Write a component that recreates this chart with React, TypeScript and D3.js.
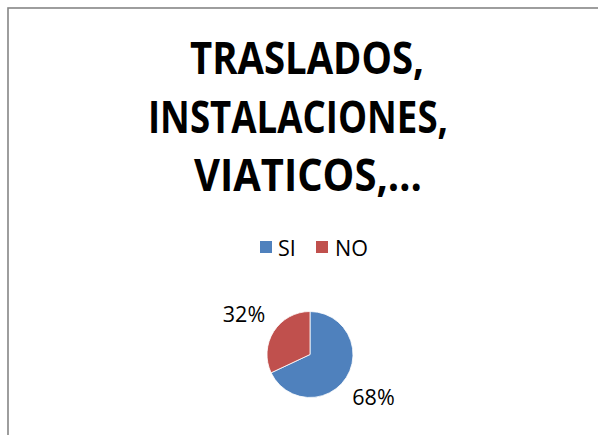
import React from "react";
import * as d3 from "d3";

const categories = ["SI", "NO"];
const values = [68, 32];
const colors = ["#4F81BD", "#C0504D"];
const titleLines = ["TRASLADOS,", "INSTALACIONES,", "VIATICOS,…"];
const titleWidths = [234, 300, 228];
const titleCenters = [307, 298, 308];

export default function App() {
  const W = 598, H = 435;
  const cx = 310, cy = 354.5, r = 43;
  const pie = d3.pie<number>().sort(null).value((d) => d)(values);
  const arc = d3.arc<d3.PieArcDatum<number>>().innerRadius(0).outerRadius(r);
  const labelPos = [
    { x: 373.5, y: 405 },
    { x: 244, y: 322 },
  ];
  const font = "'Open Sans', sans-serif";
  return (
    <svg width={W} height={H} style={{ position: "absolute", left: 0, top: 0, background: "#fff" }}>
      <rect x={8} y={8} width={700} height={600} fill="#fff" stroke="#868686" strokeWidth={1.6} />
      {titleLines.map((t, i) => (
        <text key={i} x={titleCenters[i]} y={74 + i * 58.5} textAnchor="middle" fontFamily={font} fontWeight="bold"
          fontSize={44} textLength={titleWidths[i]} lengthAdjust="spacingAndGlyphs" fill="#000">{t}</text>
      ))}
      <g>
        <rect x={260} y={241} width={12} height={12} fill={colors[0]} />
        <text x={278} y={256} fontFamily={font} fontSize={21.5} fill="#000">{categories[0]}</text>
        <rect x={316} y={241} width={12} height={12} fill={colors[1]} />
        <text x={335} y={256} fontFamily={font} fontSize={21.5} fill="#000">{categories[1]}</text>
      </g>
      <g transform={`translate(${cx},${cy})`}>
        {pie.map((p, i) => (
          <path key={i} d={arc(p) || ""} fill={colors[i]} stroke="#fff" strokeWidth={0.8} />
        ))}
      </g>
      {values.map((v, i) => (
        <text key={i} x={labelPos[i].x} y={labelPos[i].y} textAnchor="middle" fontFamily={font} fontSize={21.5} fill="#000">{v}%</text>
      ))}
    </svg>
  );
}
